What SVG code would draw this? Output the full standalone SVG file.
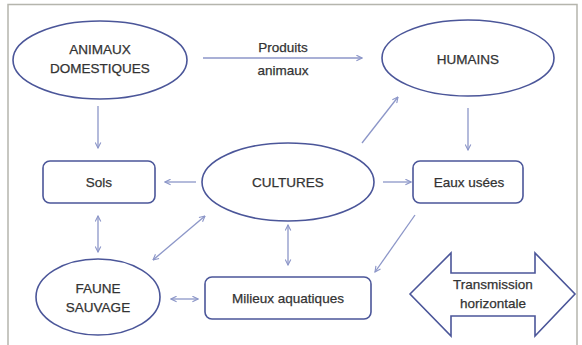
<svg xmlns="http://www.w3.org/2000/svg" width="582" height="345" viewBox="0 0 582 345">
<defs>
<style>
.node{fill:#fff;stroke:#4b5699;stroke-width:1.6}
.conn{fill:none;stroke:#8c96c8;stroke-width:1.3}
text{font-family:"Liberation Sans",Arial,sans-serif;font-size:13.5px;fill:#333;stroke:#333;stroke-width:0.25;text-anchor:middle}
</style>
<marker id="ah" viewBox="0 0 10 10" refX="9" refY="5" markerWidth="7" markerHeight="7" orient="auto-start-reverse" markerUnits="userSpaceOnUse">
<path d="M1,1 L9,5 L1,9" fill="none" stroke="#8c96c8" stroke-width="1.6"/>
</marker>
</defs>
<rect x="0" y="0" width="582" height="345" fill="#fff"/>
<path d="M8,345 V4.5 H577 V345" fill="none" stroke="#b5b5ad" stroke-width="1.5"/>
<g id="connectors">
<line class="conn" x1="203" y1="58" x2="362" y2="58" marker-end="url(#ah)"/>
<line class="conn" x1="98" y1="106" x2="98" y2="148" marker-end="url(#ah)"/>
<line class="conn" x1="468" y1="108" x2="468" y2="150" marker-end="url(#ah)"/>
<line class="conn" x1="196" y1="182" x2="165" y2="182" marker-end="url(#ah)"/>
<line class="conn" x1="383" y1="182" x2="411" y2="182" marker-end="url(#ah)"/>
<line class="conn" x1="362" y1="143" x2="398" y2="97" marker-end="url(#ah)"/>
<line class="conn" x1="415" y1="215" x2="375" y2="272" marker-end="url(#ah)"/>
<line class="conn" x1="98" y1="216" x2="98" y2="252" marker-start="url(#ah)" marker-end="url(#ah)"/>
<line class="conn" x1="205" y1="216" x2="153" y2="260" marker-start="url(#ah)" marker-end="url(#ah)"/>
<line class="conn" x1="288" y1="225" x2="288" y2="265" marker-start="url(#ah)" marker-end="url(#ah)"/>
<line class="conn" x1="171" y1="299" x2="198" y2="299" marker-start="url(#ah)" marker-end="url(#ah)"/>
</g>
<g id="produits-label">
<text x="283" y="52">Produits</text>
<text x="283" y="75">animaux</text>
</g>
<g id="animaux">
<ellipse class="node" cx="100" cy="60" rx="87" ry="39"/>
<text x="100" y="54">ANIMAUX</text>
<text x="100" y="73">DOMESTIQUES</text>
</g>
<g id="humains">
<ellipse class="node" cx="468" cy="58" rx="86" ry="38"/>
<text x="468" y="64">HUMAINS</text>
</g>
<g id="sols">
<rect class="node" x="43" y="161" width="112" height="42" rx="7"/>
<text x="99" y="187">Sols</text>
</g>
<g id="cultures">
<ellipse class="node" cx="288" cy="182" rx="86" ry="39"/>
<text x="288" y="187">CULTURES</text>
</g>
<g id="eaux">
<rect class="node" x="413" y="161" width="110" height="42" rx="7"/>
<text x="469" y="187">Eaux usées</text>
</g>
<g id="faune">
<ellipse class="node" cx="98" cy="297" rx="62" ry="38"/>
<text x="98" y="293">FAUNE</text>
<text x="98" y="312">SAUVAGE</text>
</g>
<g id="milieux">
<rect class="node" x="205" y="277" width="166" height="42" rx="7"/>
<text x="288" y="303">Milieux aquatiques</text>
</g>
<g id="transmission">
<polygon class="node" points="410,294 451,253 451,273 535,273 535,253 575,294 535,336 535,316 451,316 451,336"/>
<text x="493" y="289">Transmission</text>
<text x="493" y="308">horizontale</text>
</g>
</svg>
